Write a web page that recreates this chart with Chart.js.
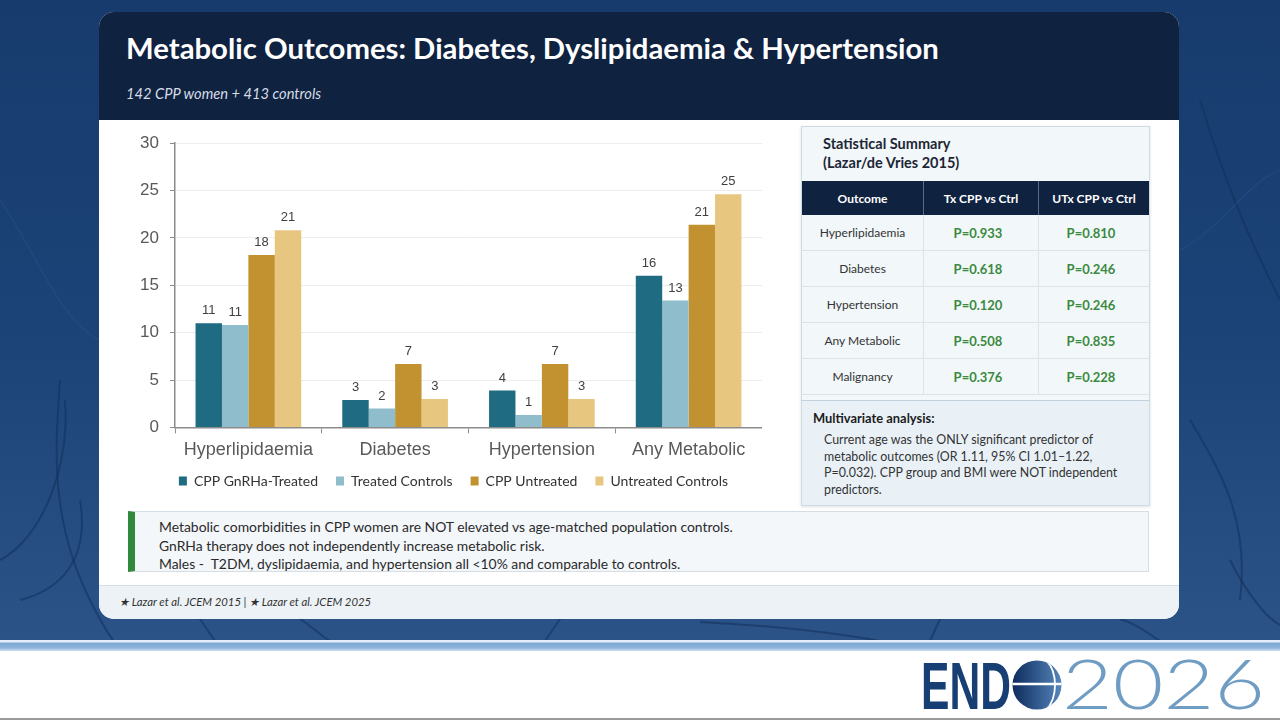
<!DOCTYPE html>
<html>
<head>
<meta charset="utf-8">
<title>Metabolic Outcomes</title>
<script src="https://cdn.jsdelivr.net/npm/chart.js@4.4.1/dist/chart.umd.min.js"></script>
<style>
  html, body { margin: 0; padding: 0; }
  body { width: 1280px; height: 720px; position: relative; overflow: hidden; background: #fff; font-family: Lato, "Open Sans", sans-serif; }
  .abs { position: absolute; }
  .bg { left: 0; top: 0; width: 1280px; height: 641px; background: linear-gradient(180deg, #173b6d 0%, #1c4478 55%, #2b5387 100%); }
  .stripe { left: 0; top: 640px; width: 1280px; height: 11px; background: linear-gradient(180deg, #e4eef8 0, #e4eef8 2px, #7da7d2 3px, #8db4db 8px, #d3e3f2 11px); }
  .bottomline { left: 0; top: 718px; width: 1280px; height: 2px; background: #9a9a9a; }
  .card { left: 99px; top: 12px; width: 1080px; height: 607px; background: #fff; border-radius: 15px; overflow: hidden; }
  .head { left: 0; top: 0; width: 1080px; height: 108px; background: #0f2240; }
  .footer { left: 0; top: 573px; width: 1080px; height: 34px; background: #edf2f6; border-top: 1px solid #d3dde5; }
  h1 { left: 126px; top: 30px; margin: 0; color: #fff; font: bold 29.3px Lato, sans-serif; white-space: nowrap; }
  .sub { left: 126px; top: 84px; color: #d5dce6; font: italic 14.7px Lato, sans-serif; }
  .chartbox { left: 100px; top: 122px; width: 662px; height: 389px; }
  .panel { left: 801px; top: 126px; width: 347px; height: 378px; background: #f2f7fa; border: 1px solid #cfdbe4; box-shadow: 0 1px 3px rgba(0,0,0,0.12); }
  .panel .ttl { position: absolute; left: 21px; top: 7px; font: bold 14.5px/19px Lato, sans-serif; color: #1d2635; }
  table { position: absolute; left: 0; top: 54px; width: 347px; border-collapse: collapse; font: 12px Lato, sans-serif; color: #333; }
  th { background: #0f2240; color: #fff; font-weight: bold; height: 34px; padding: 0; border-right: 1px solid #5d6b80; }
  td { height: 35px; padding: 0; text-align: center; border-right: 1px solid #dce4ea; border-bottom: 1px solid #dce4ea; }
  th:last-child, td:last-child { border-right: none; }
  td.p { color: #3b8a3f; font-weight: bold; font-size: 13px; padding-right: 6px; }
  .multi { left: 801px; top: 400px; width: 347px; height: 104px; background: #e9f1f7; border: 1px solid #cfdbe4; border-top: 1px solid #c3d1dc; }
  .multi .mh { position: absolute; left: 11px; top: 9px; font: bold 12.9px Lato, sans-serif; color: #1c1c1c; }
  .multi .mb { position: absolute; left: 22px; top: 31px; width: 318px; font: 12.4px/16.5px Lato, sans-serif; color: #333; }
  .note { left: 128px; top: 511px; width: 1013px; height: 59px; background: #f3f7fa; border: 1px solid #d5dee5; border-left: 7px solid #2f8a3c; }
  .note div { position: absolute; left: 24px; top: 6px; font: 13.9px/18.5px Lato, sans-serif; color: #2a2a2a; white-space: nowrap; }
  .refs { left: 119px; top: 595px; font: italic 11.3px Lato, sans-serif; color: #333; }
  .logo { left: 0; top: 0; }
</style>
</head>
<body>
<div class="abs bg"></div>
<svg class="abs" width="1280" height="641" style="left:0;top:0">
  <g fill="none" stroke="#12305c" stroke-opacity="0.55" stroke-width="2">
    <path d="M60 380 C 55 450, 50 520, 90 600 S 130 640, 120 641"/>
    <path d="M20 600 C 60 590, 90 560, 80 500"/>
    <path d="M0 560 C 40 540, 70 470, 65 400"/>
    <path d="M1200 100 C 1230 200, 1260 260, 1280 300"/>
    <path d="M1190 420 C 1220 470, 1250 520, 1240 600"/>
    <path d="M200 619 L 215 641"/>
    <path d="M300 619 C 310 625, 320 635, 330 641"/>
    <path d="M560 619 L 545 641"/>
    <path d="M700 622 C 760 625, 820 630, 880 641"/>
    <path d="M940 619 L 930 641"/>
    <path d="M1120 619 C 1140 625, 1150 635, 1160 641"/>
    <path d="M1230 560 C 1250 600, 1270 620, 1280 625"/>
  </g>
  <g fill="none" stroke="#2b5690" stroke-opacity="0.4" stroke-width="1.5">
    <path d="M0 200 C 40 260, 60 320, 99 340"/>
    <path d="M1180 250 C 1220 230, 1250 180, 1280 170"/>
  </g>
</svg>
<div class="abs stripe"></div>
<div class="abs bottomline"></div>

<div class="abs card">
  <div class="abs head"></div>
  <div class="abs footer"></div>
</div>
<h1 class="abs">Metabolic Outcomes: Diabetes, Dyslipidaemia &amp; Hypertension</h1>
<div class="abs sub">142 CPP women + 413 controls</div>

<div class="abs chartbox"><canvas id="outcomeChart"></canvas></div>

<div class="abs panel">
  <div class="ttl">Statistical Summary<br>(Lazar/de Vries 2015)</div>
  <table>
    <thead><tr><th style="width:121px">Outcome</th><th style="width:114px">Tx CPP vs Ctrl</th><th>UTx CPP vs Ctrl</th></tr></thead>
    <tbody id="pRows"></tbody>
  </table>
</div>
<div class="abs multi">
  <div class="mh">Multivariate analysis:</div>
  <div class="mb">Current age was the ONLY significant predictor of metabolic outcomes (OR 1.11, 95% CI 1.01–1.22, P=0.032). CPP group and BMI were NOT independent predictors.</div>
</div>

<div class="abs note"><div>Metabolic comorbidities in CPP women are NOT elevated vs age-matched population controls.<br>GnRHa therapy does not independently increase metabolic risk.<br>Males -&nbsp; T2DM, dyslipidaemia, and hypertension all &lt;10% and comparable to controls.</div></div>
<div class="abs refs">★ Lazar et al. JCEM 2015 | ★ Lazar et al. JCEM 2025</div>

<svg class="abs logo" width="1280" height="720">
  <defs>
    <linearGradient id="globe" x1="0" y1="0" x2="1" y2="0">
      <stop offset="0" stop-color="#0e2c5c"/>
      <stop offset="1" stop-color="#5585bb"/>
    </linearGradient>
    <clipPath id="gclip"><circle cx="1037" cy="685" r="24.5"/></clipPath>
  </defs>
  <text x="921" y="709" font-family="Liberation Sans, Arial, sans-serif" font-weight="bold" font-size="67" fill="#173f73" textLength="90" lengthAdjust="spacingAndGlyphs">END</text>
  <circle cx="1037" cy="685" r="24.5" fill="url(#globe)"/>
  <g clip-path="url(#gclip)" stroke="#fff" fill="none">
    <line x1="1010" y1="684" x2="1065" y2="684" stroke-width="2.5"/>
    <path d="M1046 660 C 1058 672, 1058 698, 1046 710" stroke-width="1.8"/>
  </g>
  <text x="1062" y="709" font-family="Lato, sans-serif" font-weight="300" font-size="68" fill="#6f9cc3" textLength="203" lengthAdjust="spacingAndGlyphs">2026</text>
</svg>

<script>
// data (%)
const categories = ["Hyperlipidaemia", "Diabetes", "Hypertension", "Any Metabolic"];
const seriesNames = ["CPP GnRHa-Treated", "Treated Controls", "CPP Untreated", "Untreated Controls"];
const cppTreated = [11.0, 2.9, 3.9, 16.0];
const treatedControls = [10.8, 2.0, 1.3, 13.4];
const cppUntreated = [18.2, 6.7, 6.7, 21.4];
const untreatedControls = [20.8, 3.0, 3.0, 24.6];
const seriesColors = ["#1f6b82", "#8fbdcc", "#c39230", "#e7c680"];
const yMax = 30;
const yStep = 5;

// statistical summary table
const outcomes = ["Hyperlipidaemia", "Diabetes", "Hypertension", "Any Metabolic", "Malignancy"];
const pTreated = ["P=0.933", "P=0.618", "P=0.120", "P=0.508", "P=0.376"];
const pUntreated = ["P=0.810", "P=0.246", "P=0.246", "P=0.835", "P=0.228"];

const rows = document.getElementById("pRows");
outcomes.forEach((name, i) => {
  const tr = document.createElement("tr");
  tr.innerHTML = `<td>${name}</td><td class="p">${pTreated[i]}</td><td class="p">${pUntreated[i]}</td>`;
  rows.appendChild(tr);
});

// numbers above bars
const barValueLabels = {
  id: "barValueLabels",
  afterDatasetsDraw(chart) {
    const c = chart.ctx;
    c.save();
    c.font = "13px 'Liberation Sans', Arial, sans-serif";
    c.fillStyle = "#404040";
    c.textAlign = "center";
    c.textBaseline = "bottom";
    chart.data.datasets.forEach((ds, i) => {
      chart.getDatasetMeta(i).data.forEach((bar, j) => {
        c.fillText(Math.round(ds.data[j]), bar.x, bar.y - 6);
      });
    });
    c.restore();
  }
};

// legend sits closer to the axis labels (and a bit right) than chart.js puts it
const nudgeLegend = {
  id: "nudgeLegend",
  afterLayout(chart) {
    const lg = chart.legend;
    lg.top -= 11;
    lg.bottom -= 11;
    lg.left += 5;
    lg.right += 5;
  }
};

const allSeries = [cppTreated, treatedControls, cppUntreated, untreatedControls];

new Chart(document.getElementById("outcomeChart"), {
  type: "bar",
  data: {
    labels: categories,
    datasets: allSeries.map((vals, i) => ({
      label: seriesNames[i],
      data: vals,
      backgroundColor: seriesColors[i],
      borderWidth: 0,
      categoryPercentage: 0.72,
      barPercentage: 1.0
    }))
  },
  options: {
    responsive: true,
    maintainAspectRatio: false,
    animation: false,
    layout: { padding: { left: 35, right: 0, top: 21, bottom: 2 } },
    plugins: {
      legend: {
        position: "bottom",
        labels: {
          boxWidth: 8,
          boxHeight: 9,
          padding: 18,
          color: "#333",
          font: { family: "Lato", size: 14 }
        }
      },
      tooltip: { enabled: false }
    },
    scales: {
      x: {
        grid: { display: true, drawOnChartArea: false, drawTicks: true, tickLength: 6, color: "#8c8c8c", offset: true },
        border: { display: true, color: "#8c8c8c", width: 1.5 },
        ticks: { color: "#595959", padding: 6, font: { family: "'Liberation Sans', Arial", size: 18 } }
      },
      y: {
        min: 0,
        max: yMax,
        afterFit(scale) { scale.width = 40; },
        grid: { color: "#ededed", tickColor: "#8c8c8c", tickLength: 5 },
        border: { display: true, color: "#8c8c8c", width: 1.5 },
        ticks: { stepSize: yStep, color: "#595959", padding: 11, font: { family: "'Liberation Sans', Arial", size: 17 } }
      }
    }
  },
  plugins: [barValueLabels, nudgeLegend]
});
</script>
</body>
</html>
